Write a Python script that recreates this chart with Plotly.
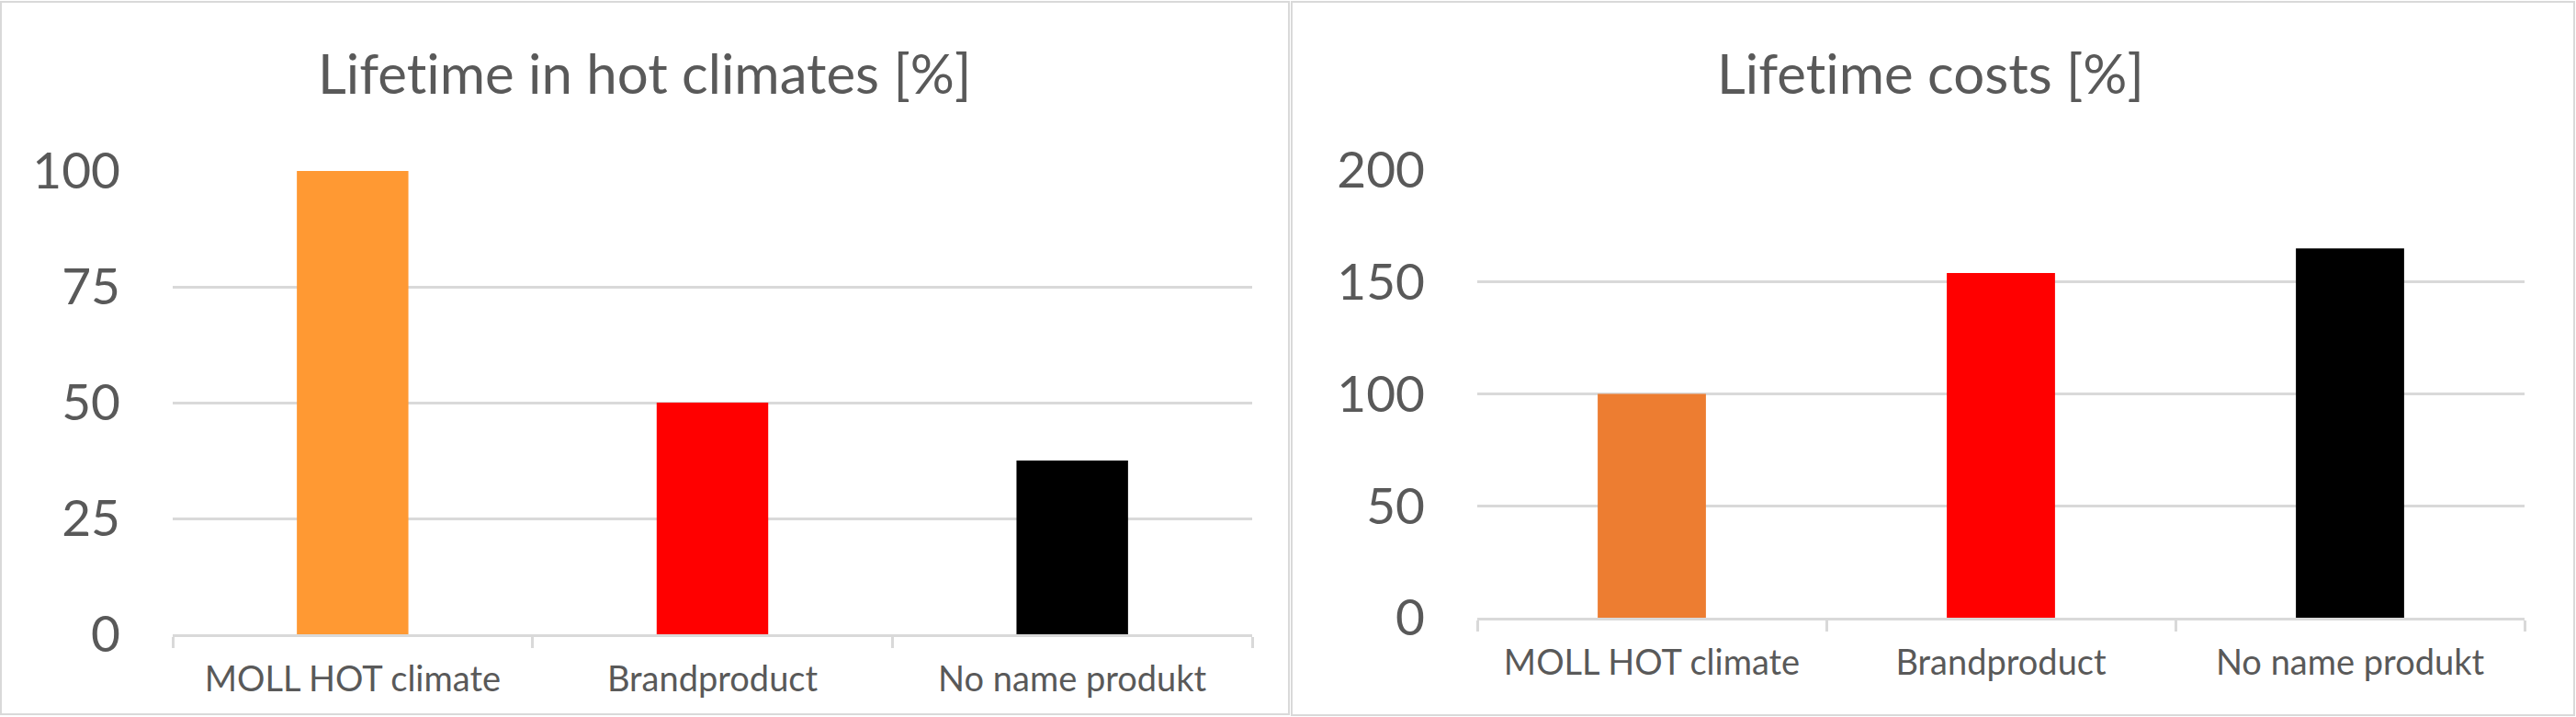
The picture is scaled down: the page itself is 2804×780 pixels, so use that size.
import plotly.graph_objects as go

# ---- data ----
categories = ["MOLL HOT climate", "Brandproduct", "No name produkt"]
lifetime_hot = [100, 50, 37.5]
lifetime_costs = [100, 154, 165]
hot_colors = ["#FF9933", "#FF0000", "#000000"]
cost_colors = ["#ED7D31", "#FF0000", "#000000"]
hot_ticks = [0, 25, 50, 75, 100]
cost_ticks = [0, 50, 100, 150, 200]
# zero-width non-joiner keeps the font from drawing a "ti" ligature
titles = ["Lifet\u200cime in hot climates [%]", "Lifet\u200cime costs [%]"]

W, H = 2804, 780
FONT = "Lato"
TXT = "#595959"
GRID = "#D9D9D9"

fig = go.Figure()
fig.add_trace(go.Bar(x=categories, y=lifetime_hot, width=0.31,
                     marker=dict(color=hot_colors, line=dict(width=0)),
                     xaxis="x", yaxis="y", showlegend=False))
fig.add_trace(go.Bar(x=categories, y=lifetime_costs, width=0.31,
                     marker=dict(color=cost_colors, line=dict(width=0)),
                     xaxis="x2", yaxis="y2", showlegend=False))


def xax(domain, anchor):
    return dict(domain=domain, anchor=anchor, type="category",
                showline=True, linecolor=GRID, linewidth=2.5,
                ticks="outside", tickson="boundaries", ticklen=12,
                tickwidth=2.5, tickcolor=GRID, showgrid=False,
                tickfont=dict(family=FONT, size=38, color=TXT),
                ticklabelstandoff=14, automargin=False, fixedrange=True)


def yax(domain, anchor, rng, ticks):
    return dict(domain=domain, anchor=anchor, range=rng, tickvals=ticks,
                showgrid=True, gridcolor=GRID, gridwidth=2.5,
                zeroline=False, showline=False, ticks="",
                tickfont=dict(family=FONT, size=55, color=TXT),
                ticklabelstandoff=56, automargin=False, fixedrange=True)


fig.update_layout(
    width=W, height=H,
    margin=dict(l=0, r=0, t=0, b=0, pad=0),
    paper_bgcolor="white", plot_bgcolor="white",
    xaxis=xax([188 / W, 1363 / W], "y"),
    yaxis=yax([1 - 690 / H, 1 - 186 / H], "x", [0, 100], hot_ticks),
    xaxis2=xax([1608 / W, 2748 / W], "y2"),
    yaxis2=yax([1 - 672 / H, 1 - 185 / H], "x2", [0, 200], cost_ticks),
    showlegend=False,
    annotations=[
        dict(text=titles[0], x=702 / W, y=1 - 79 / H, xref="paper", yref="paper",
             xanchor="center", yanchor="middle", showarrow=False,
             font=dict(family=FONT, size=60, color=TXT)),
        dict(text=titles[1], x=2101 / W, y=1 - 79 / H, xref="paper", yref="paper",
             xanchor="center", yanchor="middle", showarrow=False,
             font=dict(family=FONT, size=60, color=TXT)),
    ],
    shapes=[
        dict(type="rect", xref="paper", yref="paper",
             x0=1 / W, x1=1403 / W, y0=1 - 777 / H, y1=1 - 2 / H,
             line=dict(color=GRID, width=2), fillcolor="rgba(0,0,0,0)", layer="below"),
        dict(type="rect", xref="paper", yref="paper",
             x0=1406 / W, x1=2802 / W, y0=1 - 778 / H, y1=1 - 2 / H,
             line=dict(color=GRID, width=2), fillcolor="rgba(0,0,0,0)", layer="below"),
    ],
)

fig.write_html("out.html", config={"displayModeBar": False},
               post_script="document.body.style.margin='0';document.body.style.overflow='hidden';")
